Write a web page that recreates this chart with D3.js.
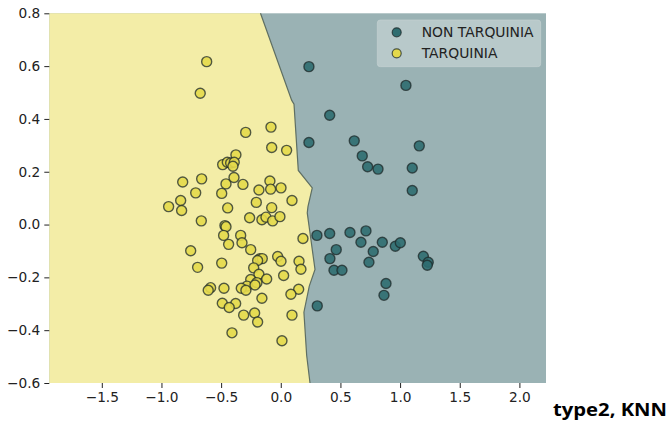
<!DOCTYPE html>
<html>
<head>
<meta charset="utf-8">
<script src="https://cdn.jsdelivr.net/npm/d3@7"></script>
<style>
  html, body { margin: 0; padding: 0; background: #fff; }
  svg { display: block; }
  .tick text { font-family: "DejaVu Sans", sans-serif; font-size: 13.7px; fill: #222; }
</style>
</head>
<body>
<svg id="chart" width="670" height="428"></svg>
<script>
// Class labels
const classes = ["NON TARQUINIA", "TARQUINIA"];

// NON TARQUINIA samples (x, y)
const nonTarqX = [0.236, 1.049, 0.410, 0.236, 0.616, 1.161, 0.683, 0.728, 0.815, 1.102, 1.102,
  0.303, 0.410, 0.580, 0.714, 0.672, 0.851, 0.960, 1.002, 0.465, 0.775, 0.412, 0.739,
  1.195, 1.236, 1.228, 0.446, 0.513, 0.882, 0.865, 0.306];
const nonTarqY = [0.598, 0.527, 0.414, 0.311, 0.317, 0.298, 0.260, 0.219, 0.210, 0.214, 0.129,
  -0.041, -0.034, -0.030, -0.024, -0.067, -0.067, -0.082, -0.069, -0.095, -0.102, -0.129, -0.143,
  -0.120, -0.143, -0.154, -0.173, -0.173, -0.223, -0.268, -0.308];

// TARQUINIA samples (x, y)
const tarqX = [-0.621, -0.675, -0.294, -0.082, -0.076, 0.049, -0.376, -0.487, -0.448, -0.420,
  -0.390, -0.401, -0.822, -0.663, -0.459, -0.392, -0.317, -0.091, 0.002, -0.085, -0.183,
  -0.713, -0.495, 0.094, -0.839, -0.205, -0.940, -0.831, -0.445, -0.076,
  -0.666, -0.261, -0.158, -0.124, -0.068, -0.007, -0.468, -0.459, -0.479, -0.336, -0.325,
  -0.437, 0.186, -0.755, -0.252, -0.495, -0.697, -0.174, -0.155, -0.194, -0.026, 0.002,
  0.153, 0.169, -0.227, -0.183, -0.252, -0.118, 0.024, -0.200, -0.283, -0.216, -0.331,
  -0.292, -0.588, -0.608, -0.476, 0.150, -0.158, 0.085, -0.490, -0.378, -0.432, -0.311,
  -0.219, -0.194, 0.094, -0.409, 0.010];
const tarqY = [0.617, 0.497, 0.349, 0.369, 0.292, 0.281, 0.264, 0.227, 0.236, 0.233,
  0.236, 0.221, 0.161, 0.173, 0.154, 0.178, 0.152, 0.165, 0.139, 0.134, 0.131,
  0.120, 0.118, 0.091, 0.091, 0.084, 0.068, 0.053, 0.063, 0.064,
  0.014, 0.026, 0.018, 0.028, 0.014, 0.030, -0.004, -0.008, -0.041, -0.041, -0.069,
  -0.075, -0.053, -0.099, -0.095, -0.146, -0.162, -0.129, -0.129, -0.136, -0.121, -0.139,
  -0.139, -0.169, -0.164, -0.188, -0.208, -0.206, -0.193, -0.220, -0.233, -0.229, -0.241,
  -0.249, -0.239, -0.249, -0.241, -0.245, -0.279, -0.264, -0.298, -0.299, -0.314, -0.343,
  -0.335, -0.369, -0.343, -0.410, -0.440];

// KNN decision boundary, traced top to bottom
const boundaryX = [-0.170, 0.091, 0.111, 0.147, 0.264, 0.228, 0.222, 0.245, 0.287, 0.239, 0.194, 0.217, 0.245];
const boundaryY = [0.800, 0.471, 0.456, 0.205, 0.139, 0.068, 0.044, -0.032, -0.170, -0.233, -0.332, -0.495, -0.600];

// Axis ticks
const xTicks = [-1.5, -1.0, -0.5, 0.0, 0.5, 1.0, 1.5, 2.0];
const yTicks = [0.8, 0.6, 0.4, 0.2, 0.0, -0.2, -0.4, -0.6];

const chartTitle = "type2, KNN";

const svg = d3.select("#chart");
const plotLeft = 49.3, plotRight = 546, plotTop = 13.3, plotBottom = 383;

const x = d3.scaleLinear().domain([-1.94, 2.223]).range([plotLeft, plotRight]);
const y = d3.scaleLinear().domain([-0.6, 0.8]).range([plotBottom, plotTop]);

const colors = {
  teal: "#9ab2b4",
  yellow: "#f3eda7",
  tealPt: "#2f6d70",
  yellowPt: "#e4d94b"
};

// Background regions
svg.append("rect")
  .attr("x", plotLeft).attr("y", plotTop)
  .attr("width", plotRight - plotLeft).attr("height", plotBottom - plotTop)
  .attr("fill", colors.teal);

const boundary = boundaryX.map((bx, i) => [bx, boundaryY[i]]);
const xMin = x.domain()[0];
const yellowPoly = [[xMin, 0.8], ...boundary, [xMin, -0.6]];
const lineGen = d3.line().x(d => x(d[0])).y(d => y(d[1]));
svg.append("path")
  .attr("d", lineGen(yellowPoly) + "Z")
  .attr("fill", colors.yellow);

svg.append("path")
  .attr("d", lineGen(boundary))
  .attr("fill", "none")
  .attr("stroke", "#5f6f63")
  .attr("stroke-width", 1.2);

// Scatter points
function drawPoints(xs, ys, fill) {
  svg.append("g").selectAll("circle")
    .data(xs.map((v, i) => [v, ys[i]]))
    .join("circle")
    .attr("cx", d => x(d[0]))
    .attr("cy", d => y(d[1]))
    .attr("r", 5)
    .attr("fill", fill)
    .attr("fill-opacity", 0.9)
    .attr("stroke", "#1e2a2a")
    .attr("stroke-opacity", 0.75)
    .attr("stroke-width", 1.4);
}
drawPoints(tarqX, tarqY, colors.yellowPt);
drawPoints(nonTarqX, nonTarqY, colors.tealPt);

// Axes
const fmt = d => d3.format(".1f")(d).replace("-", "\u2212");
const xAxis = svg.append("g")
  .attr("transform", `translate(0,${plotBottom})`)
  .call(d3.axisBottom(x).tickValues(xTicks).tickSize(5).tickPadding(4).tickFormat(fmt));
xAxis.select(".domain").remove();
xAxis.selectAll(".tick line").attr("stroke", "#222");

const yAxis = svg.append("g")
  .attr("transform", `translate(${plotLeft},0)`)
  .call(d3.axisLeft(y).tickValues(yTicks).tickSize(5).tickPadding(4).tickFormat(fmt));
yAxis.select(".domain").remove();
yAxis.selectAll(".tick line").attr("stroke", "#222");

// Legend
const lg = svg.append("g");
lg.append("rect")
  .attr("x", 377.3).attr("y", 20).attr("width", 163.4).attr("height", 46.7)
  .attr("rx", 3).attr("fill", "#ffffff").attr("fill-opacity", 0.3)
  .attr("stroke", "#c8d3d4").attr("stroke-opacity", 0.6);
[colors.tealPt, colors.yellowPt].forEach((c, i) => {
  lg.append("circle")
    .attr("cx", 396.7).attr("cy", 32.3 + i * 21)
    .attr("r", 4.5).attr("fill", c)
    .attr("stroke", "#1e2a2a").attr("stroke-opacity", 0.75).attr("stroke-width", 1.2);
  lg.append("text")
    .attr("x", 421.7).attr("y", 32.3 + i * 21)
    .attr("dy", "0.35em")
    .attr("font-family", "'DejaVu Sans', sans-serif")
    .attr("font-size", 13.9).attr("fill", "#222")
    .text(classes[i]);
});

// Caption
svg.append("text")
  .attr("x", 553).attr("y", 415.7)
  .attr("font-family", "'Open Sans', Lato, sans-serif")
  .attr("font-weight", "bold")
  .attr("font-size", 18.5)
  .attr("textLength", 114)
  .attr("lengthAdjust", "spacingAndGlyphs")
  .attr("fill", "#000")
  .text(chartTitle);
</script>
</body>
</html>
